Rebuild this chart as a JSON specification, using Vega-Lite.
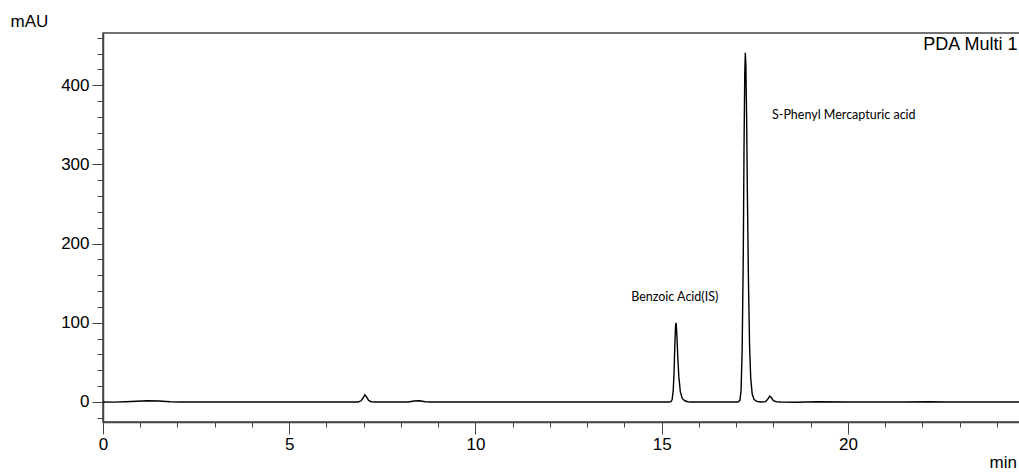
{
  "$schema": "https://vega.github.io/schema/vega-lite/v6.json",
  "autosize": "none",
  "width": 920,
  "height": 389,
  "padding": {"left": 103, "top": 33, "right": 0, "bottom": 51},
  "background": "white",
  "config": {
    "view": {"stroke": "#444", "strokeWidth": 1.5},
    "axis": {"grid": false, "domainColor": "#444", "tickColor": "#444", "labelColor": "black", "labelFont": "Liberation Sans", "labelFontSize": 17, "titleFont": "Liberation Sans", "titleFontSize": 17, "titleFontWeight": "normal", "titleColor": "black", "labelFlush": false}
  },
  "datasets": {
    "trace": [
      {"t": 0, "mAU": 0}, {"t": 0.3, "mAU": -0.2}, {"t": 0.6, "mAU": 0.3}, {"t": 0.9, "mAU": 1.0}, {"t": 1.2, "mAU": 1.6}, {"t": 1.5, "mAU": 1.2}, {"t": 1.8, "mAU": 0.2}, {"t": 2.1, "mAU": 0},
      {"t": 6.85, "mAU": 0}, {"t": 6.93, "mAU": 1.5}, {"t": 6.98, "mAU": 5}, {"t": 7.03, "mAU": 9}, {"t": 7.08, "mAU": 6}, {"t": 7.13, "mAU": 2}, {"t": 7.2, "mAU": 0.3}, {"t": 7.3, "mAU": 0},
      {"t": 8.2, "mAU": 0}, {"t": 8.35, "mAU": 1.2}, {"t": 8.5, "mAU": 1.5}, {"t": 8.65, "mAU": 0.3}, {"t": 8.8, "mAU": 0},
      {"t": 15.2, "mAU": 0}, {"t": 15.25, "mAU": 0.5}, {"t": 15.28, "mAU": 3}, {"t": 15.31, "mAU": 15}, {"t": 15.33, "mAU": 35}, {"t": 15.35, "mAU": 68}, {"t": 15.37, "mAU": 94}, {"t": 15.38, "mAU": 100}, {"t": 15.39, "mAU": 98}, {"t": 15.41, "mAU": 82}, {"t": 15.43, "mAU": 58}, {"t": 15.46, "mAU": 32}, {"t": 15.5, "mAU": 13}, {"t": 15.55, "mAU": 4.5}, {"t": 15.62, "mAU": 1.5}, {"t": 15.7, "mAU": 0.3}, {"t": 15.8, "mAU": 0},
      {"t": 17.05, "mAU": 0}, {"t": 17.1, "mAU": 2}, {"t": 17.13, "mAU": 14}, {"t": 17.16, "mAU": 65}, {"t": 17.19, "mAU": 185}, {"t": 17.21, "mAU": 320}, {"t": 17.23, "mAU": 415}, {"t": 17.245, "mAU": 441}, {"t": 17.26, "mAU": 425}, {"t": 17.28, "mAU": 360}, {"t": 17.3, "mAU": 265}, {"t": 17.33, "mAU": 150}, {"t": 17.36, "mAU": 70}, {"t": 17.39, "mAU": 30}, {"t": 17.43, "mAU": 10}, {"t": 17.48, "mAU": 3}, {"t": 17.55, "mAU": 0.8}, {"t": 17.65, "mAU": 0},
      {"t": 17.78, "mAU": 0.3}, {"t": 17.84, "mAU": 3}, {"t": 17.9, "mAU": 7.5}, {"t": 17.95, "mAU": 5}, {"t": 18.0, "mAU": 1.5}, {"t": 18.08, "mAU": 0.3}, {"t": 18.2, "mAU": 0}, {"t": 18.6, "mAU": -0.3}, {"t": 19.2, "mAU": 0.3}, {"t": 20, "mAU": 0}, {"t": 21.5, "mAU": 0}, {"t": 22.2, "mAU": 0.3}, {"t": 22.6, "mAU": 0}, {"t": 24.7, "mAU": 0}
    ],
    "labels": [
      {"t": 14.18, "mAU": 133, "label": "Benzoic Acid(IS)"},
      {"t": 17.96, "mAU": 363, "label": "S-Phenyl Mercapturic acid"}
    ],
    "pda": [
      {"t": 24.55, "mAU": 451, "label": "PDA Multi 1"}
    ]
  },
  "layer": [
    {
      "data": {"name": "trace"},
      "mark": {"type": "line", "color": "black", "strokeWidth": 1.4, "interpolate": "linear"},
      "encoding": {
        "x": {"field": "t", "type": "quantitative", "scale": {"domain": [0, 24.7], "nice": false, "zero": false},
          "axis": {"orient": "bottom", "values": [0, 5, 10, 15, 20], "tickSize": 12, "labelPadding": 2, "format": "d", "title": "min", "titleAlign": "left", "titleBaseline": "middle", "titleX": 886, "titleY": 40, "domainWidth": 1.5}},
        "y": {"field": "mAU", "type": "quantitative", "scale": {"domain": [-25.3, 466], "nice": false, "zero": false},
          "axis": {"orient": "left", "values": [0, 100, 200, 300, 400], "tickSize": 11, "labelPadding": 3, "title": "mAU", "titleAngle": 0, "titleAlign": "left", "titleBaseline": "middle", "titleX": -93, "titleY": -12, "domainWidth": 1.5}}
      }
    },
    {
      "data": {"name": "labels"},
      "mark": {"type": "text", "align": "left", "baseline": "middle", "font": "Lato", "fontSize": 12.5, "color": "black"},
      "encoding": {
        "x": {"field": "t", "type": "quantitative",
          "axis": {"orient": "bottom", "values": [0,1,2,3,4,5,6,7,8,9,10,11,12,13,14,15,16,17,18,19,20,21,22,23,24], "tickSize": 5, "labels": false, "domain": false, "title": null}},
        "y": {"field": "mAU", "type": "quantitative",
          "axis": {"orient": "left", "values": [-20,0,20,40,60,80,100,120,140,160,180,200,220,240,260,280,300,320,340,360,380,400,420,440,460], "tickSize": 6, "labels": false, "domain": false, "title": null}},
        "text": {"field": "label"}
      }
    },
    {
      "data": {"name": "pda"},
      "mark": {"type": "text", "align": "right", "baseline": "middle", "font": "Liberation Sans", "fontSize": 18, "color": "black"},
      "encoding": {
        "x": {"field": "t", "type": "quantitative", "axis": null},
        "y": {"field": "mAU", "type": "quantitative", "axis": null},
        "text": {"field": "label"}
      }
    }
  ],
  "resolve": {"scale": {"x": "shared", "y": "shared"}, "axis": {"x": "independent", "y": "independent"}}
}
